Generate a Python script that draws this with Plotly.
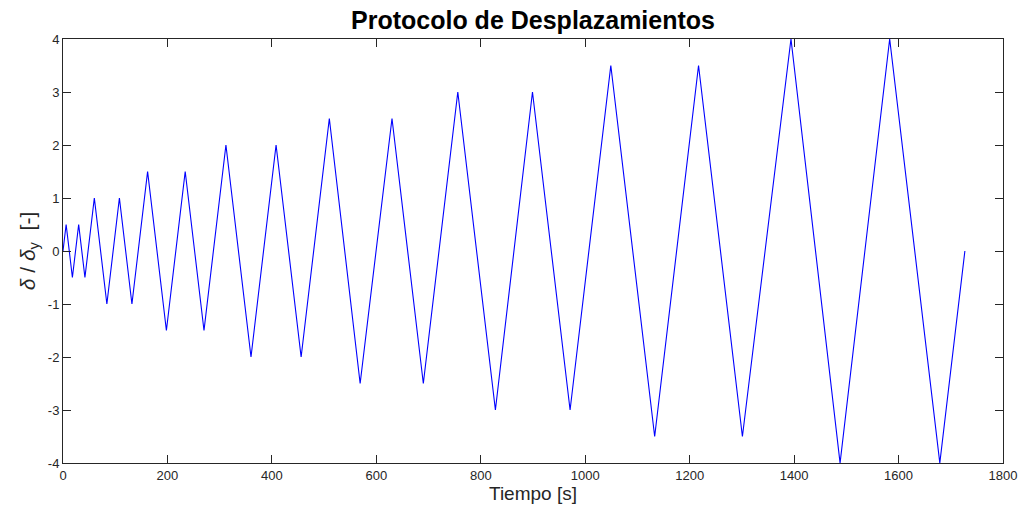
import plotly.graph_objects as go

# Vertex times [s] and normalized displacement values
tiempo = [0, 6, 18, 30, 42, 60, 84, 108, 132, 162, 198, 234, 270, 312, 360, 408, 456,
          510, 569, 630, 690, 756, 828, 899, 971, 1049, 1133, 1217, 1301,
          1394, 1488, 1583, 1679, 1727]
desplazamiento = [0, 0.5, -0.5, 0.5, -0.5, 1, -1, 1, -1, 1.5, -1.5, 1.5, -1.5, 2, -2, 2, -2,
                  2.5, -2.5, 2.5, -2.5, 3, -3, 3, -3, 3.5, -3.5, 3.5, -3.5,
                  4, -4, 4, -4, 0]

x_ticks = [0, 200, 400, 600, 800, 1000, 1200, 1400, 1600, 1800]
y_ticks = [-4, -3, -2, -1, 0, 1, 2, 3, 4]
y_ticktext = ["-4", "-3", "-2", "-1", "0", "1", "2", "3", "4"]

axis_color = "#262626"
font_family = "Liberation Sans, Arial, Helvetica, sans-serif"

fig = go.Figure()
fig.add_trace(go.Scatter(x=tiempo, y=desplazamiento, mode="lines",
                         line=dict(color="#0000FF", width=1.1), showlegend=False,
                         cliponaxis=False))

fig.update_layout(
    width=1019, height=506,
    margin=dict(l=63, r=16, t=39, b=43),
    paper_bgcolor="white", plot_bgcolor="white",
    font=dict(family=font_family, size=13, color=axis_color),
    title=dict(text="<b>Protocolo de Desplazamientos</b>", x=533 / 1019, xanchor="center",
               y=1 - 20 / 506, yanchor="middle", automargin=False,
               font=dict(size=25, color="black", family=font_family)),
)
fig.update_xaxes(range=[0, 1800], tickvals=x_ticks, ticks="inside", ticklen=8,
                 tickcolor=axis_color, showline=True, linecolor=axis_color, linewidth=1,
                 mirror="ticks", showgrid=False, zeroline=False, automargin=False,
                 title=dict(text="Tiempo [s]", font=dict(size=19, color=axis_color), standoff=2),
                 tickfont=dict(size=13, color=axis_color))
fig.update_yaxes(range=[-4, 4], tickvals=y_ticks, ticktext=y_ticktext, ticks="inside", ticklen=8,
                 tickcolor=axis_color, showline=True, linecolor=axis_color, linewidth=1,
                 mirror="ticks", showgrid=False, zeroline=False, automargin=False,
                 title=dict(text="<i>δ</i> / <i>δ</i><sub>y</sub>  [-]",
                            font=dict(size=21, color=axis_color), standoff=6),
                 tickfont=dict(size=13, color=axis_color))

fig.write_html("out.html", config={"displayModeBar": False},
               post_script="document.body.style.margin='0';document.body.style.overflow='hidden';")
